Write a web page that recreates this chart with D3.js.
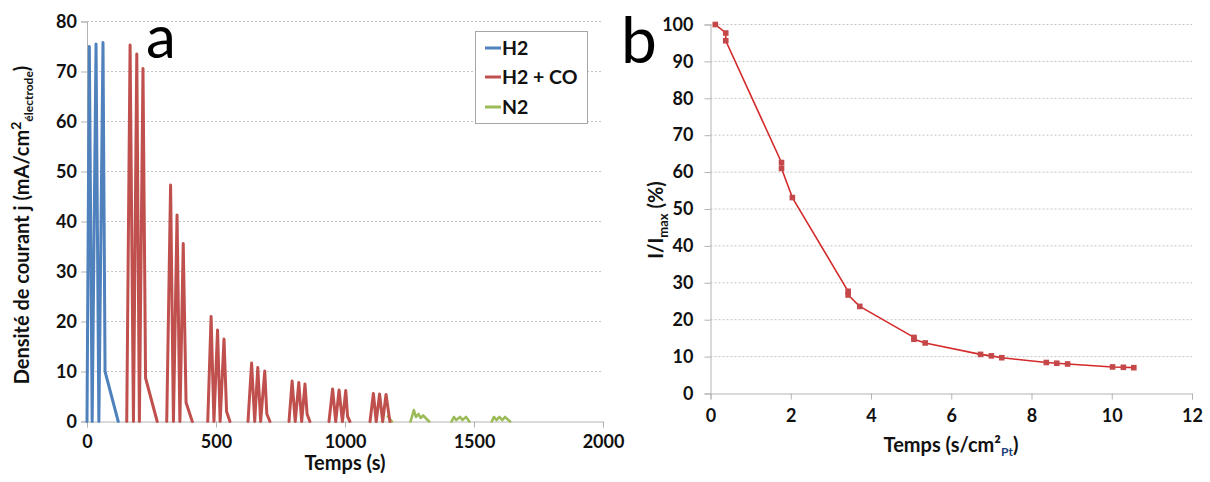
<!DOCTYPE html>
<html>
<head>
<meta charset="utf-8">
<script src="https://cdn.jsdelivr.net/npm/d3@7"></script>
<style>
  html, body { margin: 0; padding: 0; background: #fff; }
  svg { display: block; }
  text { font-family: Lato, "Open Sans", "Liberation Sans", sans-serif; }
</style>
</head>
<body>
<svg id="chart" width="1210" height="482"></svg>
<script>
// ---------- DATA (panel a) ----------
const seriesNames = ["H2", "H2 + CO", "N2"];
const h2Time = [0, 9, 20, 35, 46, 62, 70, 121];
const h2J    = [0, 75, 0, 75.5, 0, 75.8, 10, 0];
// null separates the successive pulse groups
const h2coTime = [154, 167, 180, 193, 203, 217, 227, 272, null,
                  309, 324, 335, 349, 360, 373, 384, 408, null,
                  468, 481, 492, 506, 516, 531, 541, 554, null,
                  624, 638, 650, 662, 673, 689, 697, 709, null,
                  783, 795, 807, 821, 832, 845, 853, 864, null,
                  938, 952, 964, 977, 990, 1003, 1010, 1019, null,
                  1097, 1110, 1121, 1134, 1146, 1159, 1174];
const h2coJ    = [0, 75.3, 0, 73.5, 0, 70.6, 8.7, 0, null,
                  0, 47.3, 0, 41.3, 0, 35.6, 3.8, 0, null,
                  0, 21.0, 0, 18.3, 0, 16.5, 2, 0, null,
                  0, 11.7, 0, 10.8, 0, 10.1, 1.5, 0, null,
                  0, 8.1, 0, 7.8, 0, 7.5, 1.5, 0, null,
                  0, 6.5, 0, 6.3, 0, 6.2, 1, 0, null,
                  0, 5.6, 0, 5.5, 0, 5.4, 0];
const n2Time = [1166, 1182, null,
                1254, 1267, 1275, 1285, 1293, 1303, 1326, null,
                1413, 1422, 1431, 1446, 1455, 1469, 1482, null,
                1569, 1577, 1588, 1598, 1610, 1620, 1640];
const n2J    = [1.0, 0, null,
                0, 2.3, 0.9, 1.5, 0.7, 1.2, 0, null,
                0, 0.9, 0.3, 0.9, 0.3, 0.9, 0, null,
                0, 0.9, 0.3, 0.9, 0.3, 0.9, 0];
const xTicksA = [0, 500, 1000, 1500, 2000];
const yTicksA = [0, 10, 20, 30, 40, 50, 60, 70, 80];

// ---------- DATA (panel b) ----------
const timePt = [0.12, 0.38, 0.38, 1.77, 1.77, 2.04, 3.43, 3.43, 3.72, 5.07, 5.07, 5.35,
                6.73, 7.0, 7.26, 8.37, 8.63, 8.9, 10.02, 10.29, 10.55];
const ratio  = [100, 97.7, 95.6, 62.6, 61.0, 53.1, 27.7, 26.7, 23.6, 15.2, 14.7, 13.7,
                10.6, 10.2, 9.7, 8.4, 8.2, 8.0, 7.2, 7.1, 7.0];
const xTicksB = [0, 2, 4, 6, 8, 10, 12];
const yTicksB = [0, 10, 20, 30, 40, 50, 60, 70, 80, 90, 100];

// ---------- STYLE ----------
const colors = { h2: "#4f81bd", h2co: "#c0504d", n2: "#9bbb59" };
const axisColor = "#b3b3b3";
const gridColor = "#c4c4c4";
const svg = d3.select("#chart");
const fmt = d3.format("d");

// ================= PANEL A =================
const xA = d3.scaleLinear().domain([0, 2000]).range([87, 603]);
const yA = d3.scaleLinear().domain([0, 80]).range([421.5, 21.5]);

const gA = svg.append("g");
gA.append("g").selectAll("line").data(yTicksA.filter(d => d > 0)).join("line")
  .attr("x1", xA(0)).attr("x2", xA(2000))
  .attr("y1", d => yA(d)).attr("y2", d => yA(d))
  .attr("stroke", gridColor).attr("stroke-width", 1).attr("stroke-dasharray", "2,2");

const axAy = gA.append("g").attr("transform", `translate(${xA(0)},0)`)
  .call(d3.axisLeft(yA).tickValues(yTicksA).tickFormat(fmt).tickSize(6).tickPadding(4));
const axAx = gA.append("g").attr("transform", `translate(0,${yA(0)})`)
  .call(d3.axisBottom(xA).tickValues(xTicksA).tickFormat(fmt).tickSize(6).tickPadding(4));
[axAy, axAx].forEach(a => {
  a.selectAll("path, line").attr("stroke", axisColor);
  a.selectAll("text").attr("font-size", 18).attr("font-weight", "bold").attr("fill", "#111");
});
axAx.selectAll("text").attr("dy", "0.9em");

function makeSeries(times, vals) {
  return times.map((t, i) => ({ t, v: vals[i] }));
}
const lineA = d3.line().defined(d => d.v !== null && d.t !== null)
  .x(d => xA(d.t)).y(d => yA(d.v));
const seriesA = [
  { data: makeSeries(n2Time, n2J), color: colors.n2, w: 2.6 },
  { data: makeSeries(h2Time, h2J), color: colors.h2, w: 3 },
  { data: makeSeries(h2coTime, h2coJ), color: colors.h2co, w: 3 }
];
gA.append("g").selectAll("path").data(seriesA).join("path")
  .attr("d", d => lineA(d.data))
  .attr("fill", "none").attr("stroke", d => d.color)
  .attr("stroke-width", d => d.w).attr("stroke-linejoin", "round").attr("stroke-linecap", "round");

gA.append("text").attr("x", xA(1000)).attr("y", 470)
  .attr("text-anchor", "middle").attr("font-size", 20).attr("font-weight", "bold").attr("fill", "#111")
  .text("Temps (s)");
const yt = gA.append("text").attr("transform", "translate(29,225) rotate(-90)")
  .attr("text-anchor", "middle").attr("font-size", 20).attr("font-weight", "bold").attr("fill", "#111");
yt.append("tspan").text("Densité de courant j (mA/cm");
yt.append("tspan").attr("font-size", 14).attr("dy", -8).text("2");
yt.append("tspan").attr("font-size", 12).attr("dy", 12).text("électrode");
yt.append("tspan").attr("dy", -4).text(")");

// legend
const leg = gA.append("g");
leg.append("rect").attr("x", 475.5).attr("y", 31.5).attr("width", 112).attr("height", 92)
  .attr("fill", "#fff").attr("stroke", "#a6a6a6").attr("stroke-width", 1);
const legColors = [colors.h2, colors.h2co, colors.n2];
const legY = [48, 77, 107];
seriesNames.forEach((n, i) => {
  leg.append("line").attr("x1", 485).attr("x2", 501).attr("y1", legY[i]).attr("y2", legY[i])
    .attr("stroke", legColors[i]).attr("stroke-width", 3);
  leg.append("text").attr("x", 502).attr("y", legY[i]).attr("dy", "0.36em")
    .attr("font-size", 19.5).attr("font-weight", "bold").attr("fill", "#111").text(n);
});

gA.append("text").attr("x", 146).attr("y", 58)
  .attr("font-family", "'Liberation Sans', Arial, sans-serif")
  .attr("font-size", 60).attr("fill", "#000").text("a");

// ================= PANEL B =================
const xB = d3.scaleLinear().domain([0, 12]).range([710.5, 1192]);
const yB = d3.scaleLinear().domain([0, 100]).range([393.5, 24.5]);
const gB = svg.append("g");

gB.append("g").selectAll("line").data(yTicksB.filter(d => d > 0)).join("line")
  .attr("x1", xB(0)).attr("x2", xB(12))
  .attr("y1", d => yB(d)).attr("y2", d => yB(d))
  .attr("stroke", gridColor).attr("stroke-width", 1).attr("stroke-dasharray", "2,2");

const axBy = gB.append("g").attr("transform", `translate(${xB(0)},0)`)
  .call(d3.axisLeft(yB).tickValues(yTicksB).tickFormat(fmt).tickSize(6).tickPadding(11));
const axBx = gB.append("g").attr("transform", `translate(0,${yB(0)})`)
  .call(d3.axisBottom(xB).tickValues(xTicksB).tickFormat(fmt).tickSize(6).tickPadding(6));
[axBy, axBx].forEach(a => {
  a.selectAll("path, line").attr("stroke", axisColor);
  a.selectAll("text").attr("font-size", 18).attr("font-weight", "bold").attr("fill", "#111");
});
axBx.selectAll("text").attr("dy", "0.9em");

const ptsB = timePt.map((t, i) => ({ t, v: ratio[i] }));
const lineB = d3.line().x(d => xB(d.t)).y(d => yB(d.v));
gB.append("path").attr("d", lineB(ptsB))
  .attr("fill", "none").attr("stroke", "#d42a2a").attr("stroke-width", 1.6)
  .attr("stroke-linejoin", "round");
gB.append("g").selectAll("rect").data(ptsB).join("rect")
  .attr("x", d => xB(d.t) - 2.8).attr("y", d => yB(d.v) - 2.8)
  .attr("width", 5.6).attr("height", 5.6).attr("fill", "#c4484a");

const xtB = gB.append("text").attr("x", 951).attr("y", 452)
  .attr("text-anchor", "middle").attr("font-size", 20).attr("font-weight", "bold").attr("fill", "#111");
xtB.append("tspan").text("Temps (s/cm²");
xtB.append("tspan").attr("font-size", 12).attr("dy", 4).attr("fill", "#1f3f7f").text("Pt");
xtB.append("tspan").attr("dy", -4).text(")");

const ytB = gB.append("text").attr("transform", "translate(663,220) rotate(-90)")
  .attr("text-anchor", "middle").attr("font-size", 20).attr("font-weight", "bold").attr("fill", "#111");
ytB.append("tspan").text("I/I");
ytB.append("tspan").attr("font-size", 13).attr("dy", 5).text("max");
ytB.append("tspan").attr("dy", -5).text(" (%)");

gB.append("text").attr("x", 621).attr("y", 63)
  .attr("font-family", "'Liberation Sans', Arial, sans-serif")
  .attr("font-size", 64).attr("fill", "#000").text("b");
</script>
</body>
</html>
